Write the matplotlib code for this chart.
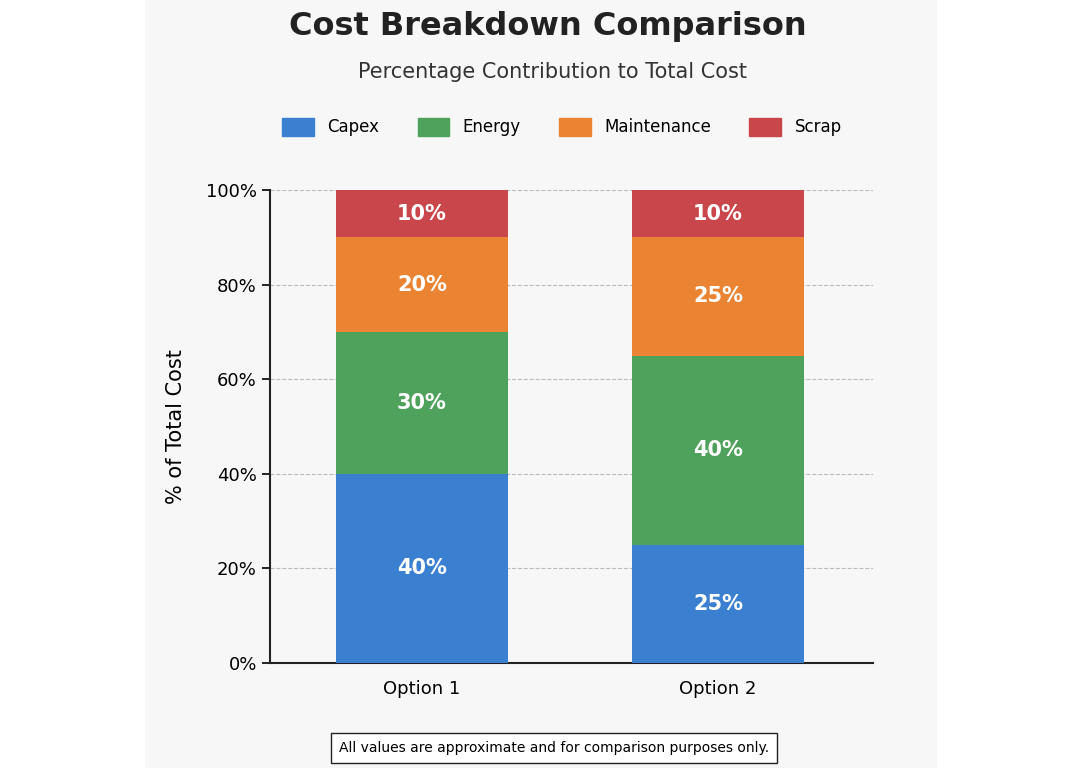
import matplotlib.pyplot as plt
from matplotlib.patches import Rectangle

options = ['Option 1', 'Option 2']
categories = ['Capex', 'Energy', 'Maintenance', 'Scrap']
values = {
    'Capex': [40, 25],
    'Energy': [30, 40],
    'Maintenance': [20, 25],
    'Scrap': [10, 10],
}
colors = ['#3a7fd0', '#4ea25c', '#ea8433', '#c9474a']

W, H = 1082, 768
fig = plt.figure(figsize=(W / 100, H / 100), dpi=100)
fig.patch.set_facecolor('white')
bg = '#f7f7f7'
fig.patches.append(Rectangle((145 / W, 0), (937 - 145) / W, 1, transform=fig.transFigure,
                             facecolor=bg, edgecolor='none', zorder=-10))

ax = fig.add_axes([270 / W, 1 - 663 / H, 603 / W, 473 / H])
ax.set_facecolor(bg)

x = range(len(options))
bottom = [0, 0]
for cat, col in zip(categories, colors):
    vals = values[cat]
    ax.bar(x, vals, width=0.58, bottom=bottom, color=col, zorder=3)
    for i, v in enumerate(vals):
        ax.text(i, bottom[i] + v / 2, f'{v}%', ha='center', va='center',
                color='white', fontsize=15, fontweight='bold', zorder=4)
    bottom = [b + v for b, v in zip(bottom, vals)]

ax.set_xlim(-0.513, 1.524)
ax.set_ylim(0, 100)
ax.set_yticks(range(0, 101, 20))
ax.set_yticklabels([f'{t}%' for t in range(0, 101, 20)], fontsize=13)
ax.set_xticks(list(x))
ax.set_xticklabels(options, fontsize=13)
ax.tick_params(axis='x', length=0, pad=12)
ax.tick_params(axis='y', length=6, width=1.2)
ax.grid(axis='y', linestyle='--', color='#bbbbbb', zorder=0)
for s in ['top', 'right']:
    ax.spines[s].set_visible(False)
for s in ['left', 'bottom']:
    ax.spines[s].set_linewidth(1.5)
    ax.spines[s].set_color('#222222')
ax.set_ylabel('% of Total Cost', fontsize=15, labelpad=14)

fig.text(548 / W, 1 - 27 / H, 'Cost Breakdown Comparison', ha='center', va='center',
         fontsize=23, fontweight='bold', color='#222222')
fig.text(552 / W, 1 - 72 / H, 'Percentage Contribution to Total Cost', ha='center',
         va='center', fontsize=15, color='#333333')

handles = [Rectangle((0, 0), 1, 1, color=c) for c in colors]
fig.legend(handles, categories, loc='center', bbox_to_anchor=(562 / W, 1 - 127 / H),
           ncol=4, frameon=False, fontsize=12, handlelength=1.9, handleheight=1.3,
           columnspacing=2.3)

fig.text(554 / W, 1 - 748 / H, 'All values are approximate and for comparison purposes only.',
         ha='center', va='center', fontsize=10,
         bbox=dict(boxstyle='square,pad=0.6', facecolor='white', edgecolor='#222222'))

fig.savefig('out.png', dpi=100)
